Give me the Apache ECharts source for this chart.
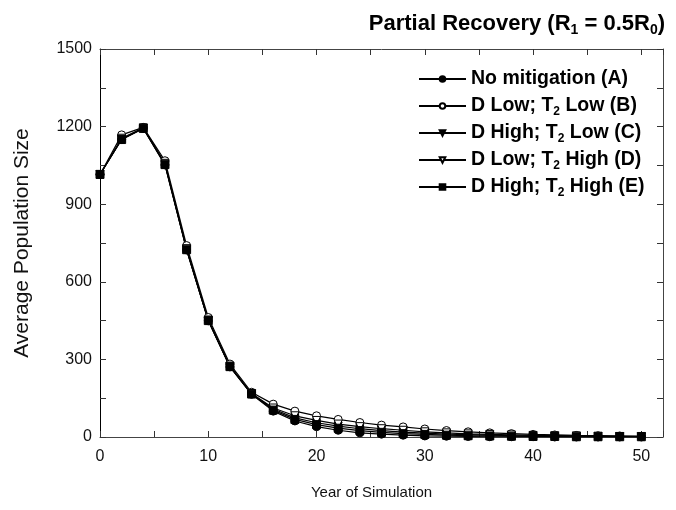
<!DOCTYPE html>
<html>
<head>
<meta charset="utf-8">
<script src="https://cdn.jsdelivr.net/npm/echarts@6/dist/echarts.min.js"></script>
<style>html,body{margin:0;padding:0;background:#fff}#c{width:676px;height:510px}</style>
</head>
<body>
<div id="c"></div>
<script>
var years = [0,2,4,6,8,10,12,14,16,18,20,22,24,26,28,30,32,34,36,38,40,42,44,46,48,50];
var seriesA = [1015,1150,1193,1052,723,449,271,165,100,62,40,26,16,11,7,4,3,2,1,1,1,0,0,0,0,0];
var seriesB = [1015,1168,1197,1068,740,462,282,173,127,100,82,68,56,46,39,31,25,20,16,13,10,8,6,5,4,3];
var seriesC = [1015,1152,1194,1056,726,451,273,167,108,74,55,42,32,25,19,15,11,9,7,5,4,3,3,2,2,1];
var seriesD = [1015,1155,1195,1058,728,452,274,168,112,82,64,50,40,32,26,20,16,12,10,8,6,5,4,3,2,2];
var seriesE = [1015,1150,1193,1053,724,450,272,166,104,68,48,34,25,18,13,10,7,5,4,3,2,2,1,1,1,1];
var legendNames = ['No mitigation (A)','D Low; T{s|2} Low (B)','D High; T{s|2} Low (C)','D Low; T{s|2} High (D)','D High; T{s|2} High (E)'];
var xTickLabels = [0,10,20,30,40,50];
var yTickLabels = [0,300,600,900,1200,1500];

var FONT = 'Liberation Sans, Arial, sans-serif';
function pairs(vals){ return years.map(function(y,i){ return [y, vals[i]]; }); }
function mk(name, vals, symbol, filled, rotate){
  return {
    name: name, type: 'line', data: pairs(vals),
    symbol: symbol, symbolSize: 8, symbolRotate: rotate || 0,
    lineStyle: {color: '#000', width: 1.2},
    itemStyle: {color: filled ? '#000' : '#fff', borderColor: '#000', borderWidth: 1},
    emphasis: {disabled: true}, animation: false
  };
}
var chart = echarts.init(document.getElementById('c'));
function line(c){ return {show: true, onZero: false, lineStyle: {color: c, width: 1}}; }
var tick = {show: true, inside: true, length: 6, lineStyle: {color: '#333'}};
chart.setOption({
  animation: false,
  title: {
    text: 'Partial Recovery (R{s|1} = 0.5R{s|0})',
    right: 6, top: 6,
    textStyle: {fontFamily: FONT, fontSize: 22, fontWeight: 'bold', color: '#000', lineHeight: 26,
      rich: {s: {fontFamily: FONT, fontSize: 14, fontWeight: 'bold', color: '#000', verticalAlign: 'bottom', lineHeight: 10}}}
  },
  legend: {
    orient: 'vertical', left: 418, top: 67, padding: 0,
    itemWidth: 47, itemHeight: 7, itemGap: 3,
    data: ['A','B','C','D','E'],
    formatter: function(n){ return legendNames['ABCDE'.indexOf(n)]; },
    textStyle: {fontFamily: FONT, fontSize: 19.5, fontWeight: 'bold', color: '#000', lineHeight: 24,
      rich: {s: {fontFamily: FONT, fontSize: 12, fontWeight: 'bold', color: '#000', verticalAlign: 'bottom', lineHeight: 8}}},
    selectedMode: false
  },
  grid: {left: 100, right: 13, top: 49, bottom: 73, containLabel: false},
  xAxis: [{
    type: 'value', min: 0, max: 52, interval: 5, position: 'bottom',
    axisLine: line('#444'), axisTick: tick,
    axisLabel: {margin: 12, fontFamily: FONT, fontSize: 16, color: '#111',
      formatter: function(v){ return xTickLabels.indexOf(v) >= 0 ? String(v) : ''; }},
    splitLine: {show: false},
    name: 'Year of Simulation', nameLocation: 'middle', nameGap: 48,
    nameTextStyle: {fontFamily: FONT, fontSize: 15, color: '#111', padding: [0, 20, 0, 0]}
  },{
    type: 'value', min: 0, max: 52, interval: 5, position: 'top',
    axisLine: line('#444'), axisTick: tick,
    axisLabel: {show: false}, splitLine: {show: false}
  }],
  yAxis: [{
    type: 'value', min: 0, max: 1500, interval: 150, position: 'left',
    axisLine: line('#000'), axisTick: tick,
    axisLabel: {margin: 8, fontFamily: FONT, fontSize: 16, color: '#111',
      formatter: function(v){ return yTickLabels.indexOf(v) >= 0 ? String(v) : ''; }},
    splitLine: {show: false},
    name: 'Average Population Size', nameLocation: 'middle', nameGap: 67,
    nameTextStyle: {fontFamily: FONT, fontSize: 21, color: '#111'}
  },{
    type: 'value', min: 0, max: 1500, interval: 150, position: 'right',
    axisLine: line('#444'), axisTick: tick,
    axisLabel: {show: false}, splitLine: {show: false}
  }],
  series: [
    mk('A', seriesA, 'circle', true),
    mk('B', seriesB, 'circle', false),
    mk('C', seriesC, 'triangle', true, 180),
    mk('D', seriesD, 'triangle', false, 180),
    mk('E', seriesE, 'rect', true)
  ]
});
</script>
</body>
</html>
